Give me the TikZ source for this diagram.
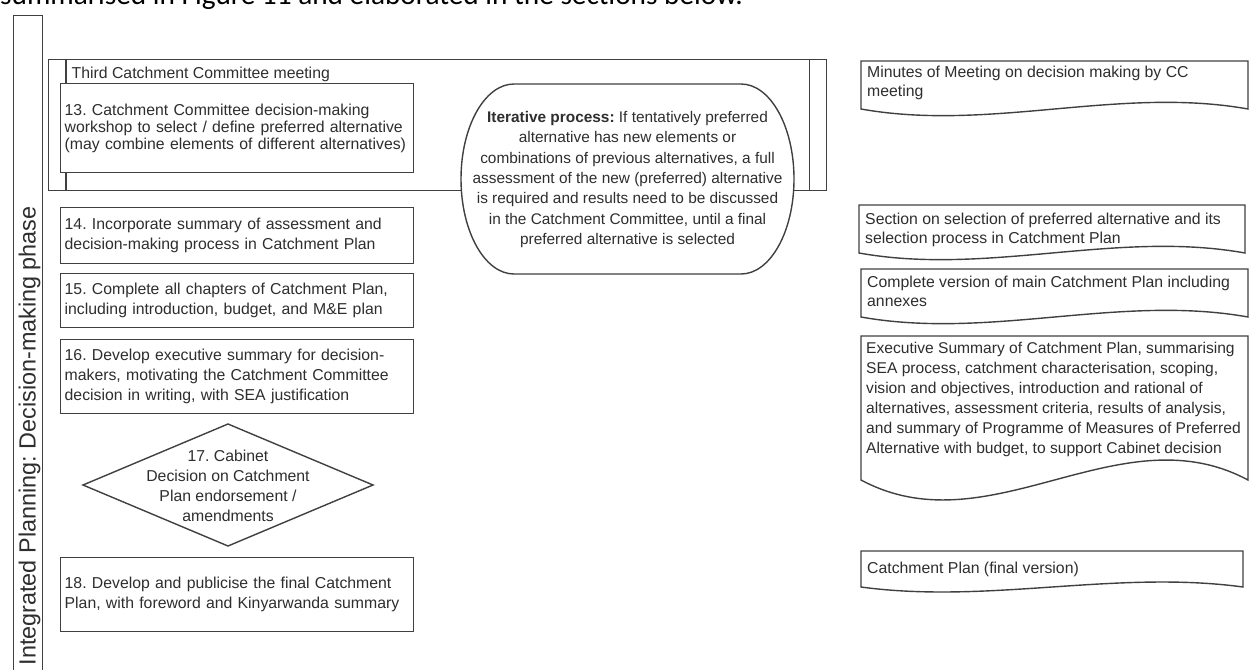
\documentclass[tikz,border=0pt]{standalone}
\usepackage{fontspec}
\setmainfont{Liberation Sans}
\newfontfamily\introfont{Carlito}
\definecolor{linegray}{HTML}{404040}
\definecolor{txtgray}{HTML}{2E2E2E}
\frenchspacing
% document symbol: left x, top y, width, height to the corners of the wavy edge
\newcommand\docshape[4]{%
  \draw[ln,fill=white] (#1,#2) -- ({#1+#3},#2) -- ({#1+#3},{#2+#4})
    .. controls ({#1+2*#3/3},{#2+#4-0.48*#4}) and ({#1+#3/3},{#2+#4+0.48*#4}) .. (#1,{#2+#4}) -- cycle;}
\begin{document}
\begin{tikzpicture}[x=1pt,y=-1pt,
  ln/.style={draw=linegray,line width=1.4pt},
  lbl/.style={text=txtgray,inner sep=0pt},
  stepbox/.style={ln,fill=white,anchor=north west,inner xsep=4pt,inner ysep=0pt,
    text width=345pt,align=left,text=txtgray,font=\fontsize{15.8}{20}\selectfont},
  doctext/.style={lbl,anchor=north west,align=left,font=\fontsize{15.8}{19}\selectfont}]
\useasboundingbox (0,0) rectangle (1257,669);
\clip (0,0) rectangle (1257,669);

% running text above the figure
\node[anchor=base west,inner sep=0pt,font=\introfont\fontsize{29.3}{30}\selectfont] (intro) at (0,4.5)
  {summarised in Figure 11 and elaborated in the sections below.};

% phase lane
\node[ln,anchor=north west,minimum width=29pt,minimum height=700pt,inner sep=0pt] (lane) at (13,15) {};
\node[lbl,rotate=90,anchor=base east,font=\fontsize{23.4}{24}\selectfont] (phase) at (35.5,206)
  {Integrated Planning: Decision-making phase};

% third Catchment Committee meeting (predefined process)
\node[ln,anchor=north west,minimum width=778pt,minimum height=131pt,inner sep=0pt] (ccm) at (48,59) {};
\draw[ln] ([xshift=18pt]ccm.north west) -- ([xshift=18pt]ccm.south west);
\draw[ln] ([xshift=-18pt]ccm.north east) -- ([xshift=-18pt]ccm.south east);
\node[lbl,anchor=base west,font=\fontsize{15.8}{20}\selectfont] (ccl) at (71.5,78.5) {Third Catchment Committee meeting};

% process steps
\node[stepbox,minimum height=89pt,font=\fontsize{15.8}{17}\selectfont] (s13) at (60,83)
  {13. Catchment Committee decision-making\\workshop to select / define preferred alternative\\(may combine elements of different alternatives)};
\node[stepbox,minimum height=56pt] (s14) at (60,207)
  {14. Incorporate summary of assessment and\\decision-making process in Catchment Plan};
\node[stepbox,minimum height=54pt] (s15) at (60,273)
  {15. Complete all chapters of Catchment Plan,\\including introduction, budget, and M\&E plan};
\node[stepbox,minimum height=74pt] (s16) at (60,339)
  {16. Develop executive summary for decision-\\makers, motivating the Catchment Committee\\decision in writing, with SEA justification};
\node[stepbox,minimum height=74pt] (s18) at (60,557)
  {18. Develop and publicise the final Catchment\\Plan, with foreword and Kinyarwanda summary};

% decision
\draw[ln,fill=white] (83,485) -- (228,424) -- (373,485) -- (228,546) -- cycle;
\node[lbl,align=center,font=\fontsize{15.8}{20}\selectfont] (s17) at (228,486)
  {17. Cabinet\\Decision on Catchment\\Plan endorsement /\\amendments};

% iterative loop note
\draw[ln,fill=white] (514,84) -- (741,84)
  arc[start angle=-90,end angle=90,x radius=53,y radius=95] -- (514,274)
  arc[start angle=90,end angle=270,x radius=53,y radius=95] -- cycle;
\node[lbl,align=center,font=\fontsize{15.4}{20.3}\selectfont] (iter) at (627.5,179.5)
  {\textbf{Iterative process:} If tentatively preferred\\alternative has new elements or\\combinations of previous alternatives, a full\\assessment of the new (preferred) alternative\\is required and results need to be discussed\\in the Catchment Committee, until a final\\preferred alternative is selected};

% outputs
\docshape{861}{61}{387}{48}
\node[doctext] (o13) at (867,66) {Minutes of Meeting on decision making by CC\\meeting};
\docshape{859}{205}{386}{48}
\node[doctext] (o14) at (865,212.5) {Section on selection of preferred alternative and its\\selection process in Catchment Plan};
\docshape{861}{269}{387}{48}
\node[doctext] (o15) at (867,275.5) {Complete version of main Catchment Plan including\\annexes};
\docshape{861}{336}{387}{144}
\node[doctext,font=\fontsize{15.6}{20}\selectfont] (o16) at (866,342)
  {Executive Summary of Catchment Plan, summarising\\SEA process, catchment characterisation, scoping,\\vision and objectives, introduction and rational of\\alternatives, assessment criteria, results of analysis,\\and summary of Programme of Measures of Preferred\\Alternative with budget, to support Cabinet decision};
\docshape{861}{551}{382}{36}
\node[doctext] (o18) at (867,562) {Catchment Plan (final version)};
\end{tikzpicture}
\end{document}
